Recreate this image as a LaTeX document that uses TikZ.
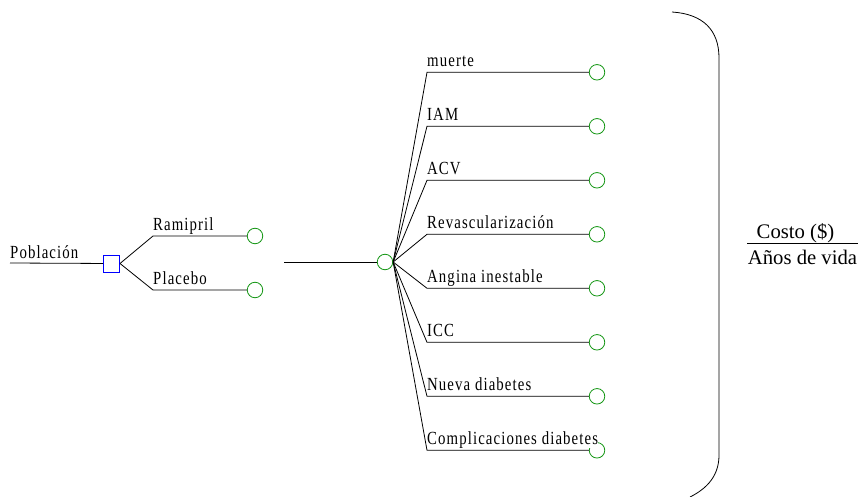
\documentclass[tikz,border=0pt]{standalone}
\usepackage{fontspec}
\setmainfont{Liberation Serif}
\newfontfamily\treefont[FakeStretch=0.8,LetterSpace=6]{Liberation Serif}
\usetikzlibrary{positioning,calc}

\definecolor{chancegreen}{RGB}{20,150,20}
\definecolor{decisionblue}{RGB}{0,0,255}

\tikzset{
	chance/.style={circle, draw=chancegreen, line width=0.8pt, minimum size=15.5pt, inner sep=0pt},
	decision/.style={rectangle, draw=decisionblue, line width=1pt, minimum width=16pt, minimum height=17pt, inner sep=0pt},
	branchlabel/.style={anchor=base west, inner sep=0pt, fill=white, font=\treefont\fontsize{18.5}{20}\selectfont},
	branch/.style={line width=0.8pt},
}

\begin{document}
\begin{tikzpicture}[x=1pt,y=-1pt]
		\useasboundingbox (0,0) rectangle (858,497);

		% decision node and population
		\coordinate (pob) at (10,263);
		\node[decision] (dec) at (111.5,263.5) {};
		\draw[branch] (pob) -- (dec);
		\node[branchlabel] (poblabel) at ($(pob)+(0,-4.5)$) {Población};

		% treatments
		\coordinate (ram) at (153,236);
		\coordinate (pla) at (153,290);
		\node[chance] (ramend) at (255,236) {};
		\node[chance] (plaend) at (255,290) {};
		\draw[branch] (dec.east) -- (ram) -- (ramend);
		\draw[branch] (dec.east) -- (pla) -- (plaend);
		\node[branchlabel] (ramlabel) at ($(ram)+(0,-5.5)$) {Ramipril};
		\node[branchlabel] (plalabel) at ($(pla)+(0,-5.5)$) {Placebo};

		% chance node with the events
		\coordinate (entry) at (284,262);
		\node[chance] (evt) at (385,262) {};
		\draw[branch] (entry) -- (evt);

		\foreach \txt [count=\i] in {muerte, IAM, ACV, Revascularización, Angina inestable, ICC, Nueva diabetes, Complicaciones diabetes} {
			\pgfmathsetmacro\yy{72.3+54*(\i-1)}
			\coordinate (br\i) at (427,\yy);
			\node[chance] (end\i) at (597,\yy) {};
			\draw[branch] (evt.east) -- (br\i) -- (end\i);
			\node[branchlabel] (lab\i) at ($(br\i)+(0,-6)$) {\txt};
		}

		% bracket
		\coordinate (btop) at (672,12);
		\coordinate (bbot) at (690,497);
		\draw[branch] (btop) .. controls (703,14) and (719,30) .. (719,58)
			-- (719,455) .. controls (719,475) and (708,488) .. (bbot);

		% ratio
		\node[anchor=base, font=\fontsize{20.7}{22}\selectfont] (costo) at (795.5,238) {Costo (\$)};
		\node[anchor=base, font=\fontsize{20.7}{22}\selectfont] (anos) at (802.5,264) {Años de vida};
		\coordinate (rulel) at (747,243);
		\coordinate (ruler) at (858,243);
		\draw[line width=0.8pt] (rulel) -- (ruler);
	\end{tikzpicture}
\end{document}
